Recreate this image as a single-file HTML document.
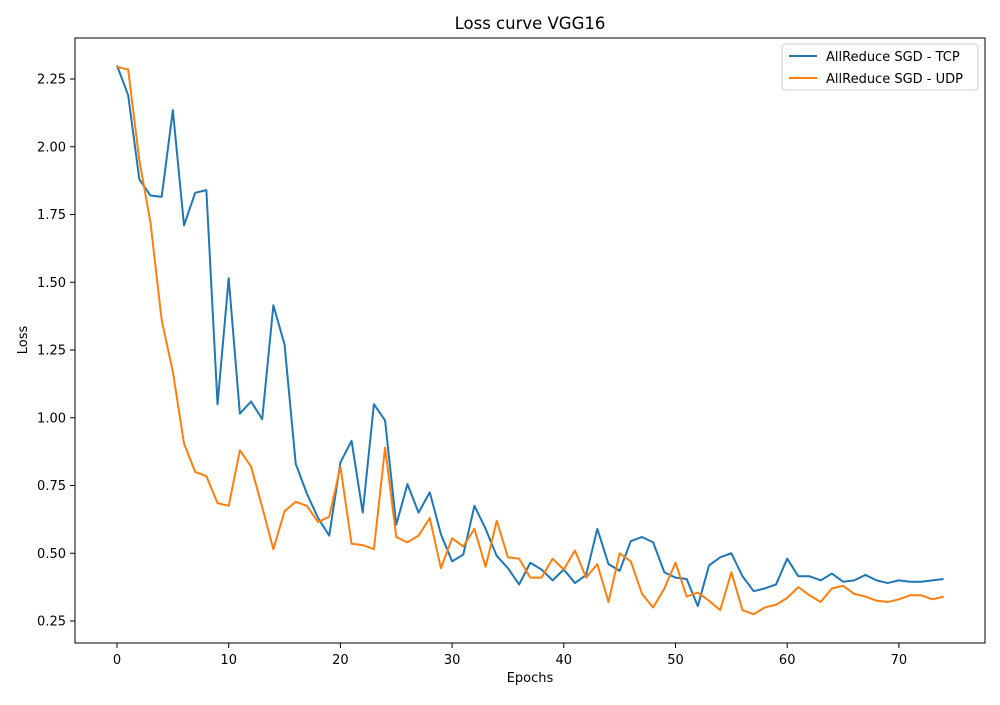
<!DOCTYPE html>
<html><head><meta charset="utf-8"><style>
body{margin:0;background:#fff;font-family:"Liberation Sans","DejaVu Sans",sans-serif;}
svg text{font-family:"DejaVu Sans","Liberation Sans",sans-serif;}
</style></head><body>
<svg id="chart" width="1000" height="700" xmlns="http://www.w3.org/2000/svg">
<rect width="1000" height="700" fill="#fff"/>
<text x="530" y="29" font-size="16.5" text-anchor="middle">Loss curve VGG16</text>
<g id="grid"></g>
<g id="series"></g>
<rect x="75" y="38" width="910" height="605" fill="none" stroke="#000" stroke-width="1"/>
<g id="ticks" font-size="13"></g>
<text x="530" y="682" font-size="13" text-anchor="middle">Epochs</text>
<text transform="translate(27,340) rotate(-90)" font-size="13" text-anchor="middle">Loss</text>
<g>
<rect x="782" y="44" width="196" height="46" fill="#fff" stroke="#ccc" rx="3"/>
<line x1="789" y1="56" x2="817" y2="56" stroke="#1f77b4" stroke-width="2"/>
<text x="826" y="61" font-size="13">AllReduce SGD - TCP</text>
<line x1="789" y1="78" x2="817" y2="78" stroke="#ff7f0e" stroke-width="2"/>
<text x="826" y="83" font-size="13">AllReduce SGD - UDP</text>
</g>
</svg>
<script>
const tcp=[2.30,2.19,1.88,1.82,1.815,2.135,1.71,1.83,1.84,1.05,1.515,1.015,1.06,0.995,1.415,1.27,0.83,0.72,0.63,0.565,0.835,0.915,0.65,1.05,0.99,0.605,0.755,0.65,0.725,0.57,0.47,0.495,0.675,0.59,0.49,0.445,0.385,0.465,0.44,0.40,0.44,0.39,0.42,0.59,0.46,0.435,0.545,0.56,0.54,0.43,0.41,0.405,0.305,0.455,0.485,0.50,0.415,0.36,0.37,0.385,0.48,0.415,0.415,0.40,0.425,0.395,0.40,0.42,0.40,0.39,0.40,0.395,0.395,0.40,0.405];
const udp=[2.295,2.285,1.95,1.72,1.36,1.17,0.905,0.80,0.785,0.685,0.675,0.88,0.82,0.67,0.515,0.655,0.69,0.675,0.615,0.635,0.82,0.535,0.53,0.515,0.89,0.56,0.54,0.565,0.63,0.445,0.555,0.525,0.59,0.45,0.62,0.485,0.48,0.41,0.41,0.48,0.44,0.51,0.41,0.46,0.32,0.50,0.47,0.35,0.30,0.37,0.465,0.34,0.355,0.325,0.29,0.43,0.29,0.275,0.30,0.31,0.335,0.375,0.345,0.32,0.37,0.38,0.35,0.34,0.325,0.32,0.33,0.345,0.345,0.33,0.34];
const xTicks=[0,10,20,30,40,50,60,70];
const yTicks=[0.25,0.50,0.75,1.00,1.25,1.50,1.75,2.00,2.25];
const X=v=>117+v*11.17;
const Y=v=>621-(v-0.25)*271;
const NS="http://www.w3.org/2000/svg";
const tk=document.getElementById('ticks');
xTicks.forEach(t=>{
 const l=document.createElementNS(NS,'line');
 l.setAttribute('x1',X(t));l.setAttribute('x2',X(t));l.setAttribute('y1',643);l.setAttribute('y2',648);l.setAttribute('stroke','#000');
 
 
 tk.appendChild(l);
 const s=document.createElementNS(NS,'text');
 s.setAttribute('x',X(t));s.setAttribute('y',664);s.setAttribute('text-anchor','middle');s.textContent=t;
 
 
 tk.appendChild(s);
});
yTicks.forEach(t=>{
 const l=document.createElementNS(NS,'line');
 l.setAttribute('x1',70);l.setAttribute('x2',75);l.setAttribute('y1',Y(t));l.setAttribute('y2',Y(t));l.setAttribute('stroke','#000');
 
 
 tk.appendChild(l);
 const s=document.createElementNS(NS,'text');
 s.setAttribute('x',66);s.setAttribute('y',Y(t)+4.5);s.setAttribute('text-anchor','end');s.textContent=t.toFixed(2);
 
 
 tk.appendChild(s);
});
const sg=document.getElementById('series');
[[tcp,'#1f77b4','tcp-line'],[udp,'#ff7f0e','udp-line']].forEach(([d,c,n])=>{
 const p=document.createElementNS(NS,'polyline');
 p.setAttribute('points',d.map((v,i)=>X(i)+','+Y(v)).join(' '));
 p.setAttribute('fill','none');p.setAttribute('stroke',c);p.setAttribute('stroke-width','2');p.setAttribute('stroke-linejoin','round');
 
 
 sg.appendChild(p);
});
</script>
</body></html>
